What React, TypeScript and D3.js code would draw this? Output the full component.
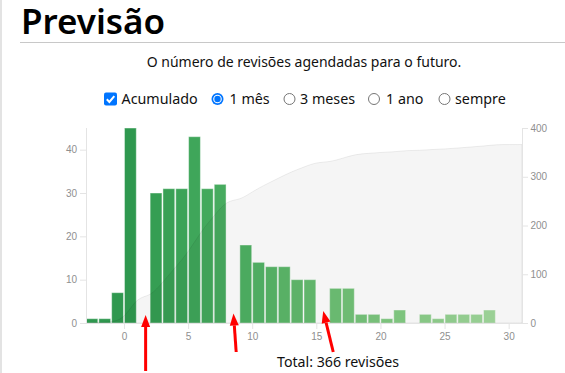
import React from "react";
import * as d3 from "d3";

const titleText = "Previsão";
const subtitleText = "O número de revisões agendadas para o futuro.";
const totalText = "Total: 366 revisões";
const cumulativeLabel = "Acumulado";
const rangeOptions = ["1 mês", "3 meses", "1 ano", "sempre"];
const selectedRange = 0;

const dayOffsets = [-3, -2, -1, 0, 1, 2, 3, 4, 5, 6, 7, 8, 9, 10, 11, 12, 13, 14, 15, 16, 17, 18, 19, 20, 21, 22, 23, 24, 25, 26, 27, 28, 29, 30];
const dueCounts = [1, 1, 7, 45, 0, 30, 31, 31, 43, 31, 32, 0, 18, 14, 13, 13, 10, 10, 0, 8, 8, 2, 2, 1, 3, 0, 2, 1, 2, 2, 2, 3, 0, 0];
const xTicks = [0, 5, 10, 15, 20, 25, 30];
const leftTicks = [0, 10, 20, 30, 40];
const rightTicks = [0, 100, 200, 300, 400];
// days of the gaps the red arrows point to
const arrowDays = [1, 8, 15];

const W = 565, H = 373;
const plot = { left: 86, right: 522, top: 128, bottom: 323 };

export default function App() {
  const xMin = dayOffsets[0];
  const xMax = dayOffsets[dayOffsets.length - 1] + 1;
  const x = d3.scaleLinear().domain([xMin, xMax]).range([plot.left, plot.right]);
  const y = d3.scaleLinear().domain([0, d3.max(dueCounts)!]).range([plot.bottom, plot.top]);
  const cumulative = [0];
  dueCounts.forEach((c, i) => cumulative.push(cumulative[i] + c));
  const y2 = d3.scaleLinear().domain([0, d3.max(cumulative)!]).nice().range([plot.bottom, plot.top]);
  const colorT = d3.scaleLinear().domain([0, 29]).range([0.7, 0.36]).clamp(true);
  const color = (d: number) => d3.interpolateGreens(colorT(d));

  const areaGen = d3
    .area<number>()
    .curve(d3.curveBasis)
    .x((_, i) => (i === 0 ? x(dayOffsets[0]) : x(dayOffsets[i - 1] + 1)))
    .y0(y2(0))
    .y1((d) => y2(d));

  const font = "'Noto Sans', 'Open Sans', sans-serif";
  const axisFont = "'Liberation Sans', Arial, sans-serif";
  const axisColor = "#e4e4e4";
  const tickText = "#8f8f8f";

  const radioX = [217.5, 289.5, 374, 444.5];
  const radioLabelX = [229.5, 300, 386, 455];
  const ctrlY = 99;

  const arrowSpecs = [
    { dx: 0.65, tipY: 315, tailY: 371, tailDx: 0 },
    { dx: 0.5, tipY: 313.5, tailY: 352, tailDx: 2.7 },
    { dx: 0.5, tipY: 311, tailY: 352, tailDx: 10 },
  ];

  return (
    <svg width={W} height={H} style={{ position: "absolute", left: 0, top: 0, background: "#fff" }}>
      <rect x={0} y={0} width={2} height={H} fill="#e3e3e3" />
      <text x={21} y={34} fontFamily={font} fontSize={35} fontWeight={600} fill="#000">{titleText}</text>
      <line x1={20} x2={W} y1={42.5} y2={42.5} stroke="#c8c8c8" strokeWidth={1} />
      <text x={304} y={67} textAnchor="middle" fontFamily={font} fontSize={14} fill="#111">{subtitleText}</text>

      {/* controls */}
      <rect x={104} y={ctrlY - 6.5} width={13} height={13} rx={2} fill="#0075ff" />
      <path d={`M106.8,${ctrlY + 0.2} L109.4,${ctrlY + 2.9} L114.3,${ctrlY - 2.8}`} fill="none" stroke="#fff" strokeWidth={2} />
      <text x={121.5} y={104} fontFamily={font} fontSize={14.3} fill="#111">{cumulativeLabel}</text>
      {rangeOptions.map((label, i) => (
        <g key={label}>
          {i === selectedRange ? (
            <>
              <circle cx={radioX[i]} cy={ctrlY} r={6} fill="#0075ff" />
              <circle cx={radioX[i]} cy={ctrlY} r={4.3} fill="#fff" />
              <circle cx={radioX[i]} cy={ctrlY} r={3.2} fill="#0075ff" />
            </>
          ) : (
            <circle cx={radioX[i]} cy={ctrlY} r={5.5} fill="#fff" stroke="#767676" strokeWidth={1} />
          )}
          <text x={radioLabelX[i]} y={104} fontFamily={font} fontSize={14.3} fill="#111">{label}</text>
        </g>
      ))}

      {/* bars */}
      {dayOffsets.map((d, i) =>
        dueCounts[i] > 0 ? (
          <rect
            key={d}
            x={x(d)}
            y={y(dueCounts[i])}
            width={x(d + 1) - x(d) - 1}
            height={y(0) - y(dueCounts[i])}
            fill={color(d)}
            stroke="rgba(255,255,255,0.45)"
            strokeWidth={1}
          />
        ) : null
      )}

      {/* cumulative area */}
      <path d={areaGen(cumulative)!} fill="rgba(0,0,0,0.04)" stroke="rgba(0,0,0,0.07)" strokeWidth={1} />

      {/* axes */}
      <line x1={plot.left - 6} x2={plot.right} y1={plot.bottom + 0.5} y2={plot.bottom + 0.5} stroke={axisColor} />
      <line x1={plot.left + 0.5} x2={plot.left + 0.5} y1={plot.top} y2={plot.bottom} stroke={axisColor} />
      <line x1={plot.right + 0.5} x2={plot.right + 0.5} y1={plot.top} y2={plot.bottom} stroke={axisColor} />
      {xTicks.map((t) => (
        <g key={"x" + t}>
          <line x1={x(t)} x2={x(t)} y1={plot.bottom} y2={plot.bottom + 6} stroke={axisColor} />
          <text x={x(t)} y={339.5} textAnchor="middle" fontFamily={axisFont} fontSize={10} fill={tickText}>{t}</text>
        </g>
      ))}
      {leftTicks.map((t) => (
        <g key={"l" + t}>
          <line x1={plot.left - 6} x2={plot.left} y1={y(t) + 0.5} y2={y(t) + 0.5} stroke={axisColor} />
          <text x={77} y={y(t) + 3.5} textAnchor="end" fontFamily={axisFont} fontSize={10} fill={tickText}>{t}</text>
        </g>
      ))}
      {rightTicks.map((t) => (
        <g key={"r" + t}>
          <line x1={plot.right} x2={plot.right + 6} y1={y2(t) + 0.5} y2={y2(t) + 0.5} stroke={axisColor} />
          <text x={530.5} y={y2(t) + 3.5} textAnchor="start" fontFamily={axisFont} fontSize={10} fill={tickText}>{t}</text>
        </g>
      ))}

      <text x={277} y={366.5} fontFamily={font} fontSize={14.2} fill="#111">{totalText}</text>

      {/* red annotation arrows */}
      {arrowDays.map((d, i) => {
        const s = arrowSpecs[i];
        const tipX = x(d + s.dx);
        const tailX = tipX + s.tailDx;
        const ang = Math.atan2(s.tailY - s.tipY, tailX - tipX);
        const len = 12, half = 4.5;
        const bx = tipX + Math.cos(ang) * len, by = s.tipY + Math.sin(ang) * len;
        const px = -Math.sin(ang) * half, py = Math.cos(ang) * half;
        return (
          <g key={"a" + d}>
            <line x1={tailX} y1={s.tailY} x2={bx} y2={by} stroke="#ff0000" strokeWidth={3} />
            <path d={`M${tipX},${s.tipY} L${bx + px},${by + py} L${bx - px},${by - py} Z`} fill="#ff0000" />
          </g>
        );
      })}
    </svg>
  );
}
